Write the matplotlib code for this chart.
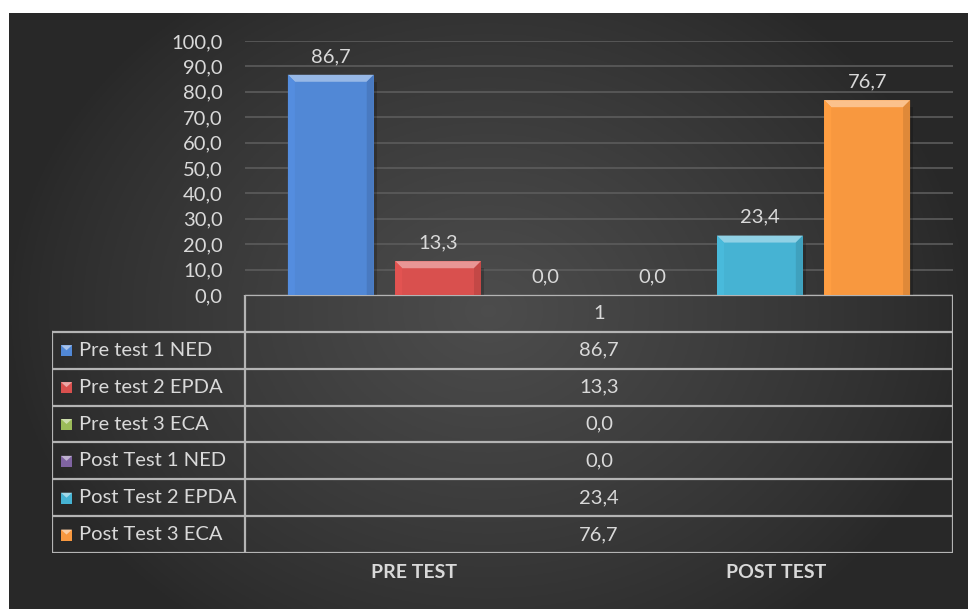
import numpy as np
import matplotlib
matplotlib.use("Agg")
import matplotlib.pyplot as plt
from matplotlib.patches import Polygon, Rectangle
import matplotlib.colors as mcolors

# ------------------------------------------------------------
# Data
# ------------------------------------------------------------
series = ["Pre test 1 NED", "Pre test 2 EPDA", "Pre test 3 ECA",
          "Post Test 1 NED", "Post Test 2 EPDA", "Post Test 3 ECA"]
values = [86.7, 13.3, 0.0, 0.0, 23.4, 76.7]
colors = ["#5188d6", "#d9504e", "#9bbb59", "#8064a2", "#46b3d3", "#f8983f"]
header = "1"
groups = ["PRE TEST", "POST TEST"]
yticks = [0, 10, 20, 30, 40, 50, 60, 70, 80, 90, 100]

W, H = 968, 609
txt = "#d9d9d9"
font = "Lato"
fs = 14.5


def fmt(v):
    return f"{v:.1f}".replace(".", ",")


def fx(px):
    return px / W


def fy(py):
    return 1 - py / H


fig = plt.figure(figsize=(W / 100, H / 100), dpi=100, facecolor="white")

# ------------------------------------------------------------
# Dark gradient background panel
# ------------------------------------------------------------
bg = fig.add_axes([fx(9), 0, fx(W - 9), fy(13)])
bg.set_axis_off()
gx, gy = np.meshgrid(np.linspace(-1, 1, 400), np.linspace(-1, 1, 300))
r = np.sqrt((gx / 1.0) ** 2 + (gy / 1.3) ** 2)
shade = 0.16 + 0.14 * np.clip(1 - r, 0, 1) ** 0.85
bg.imshow(np.dstack([shade] * 3), aspect="auto", extent=[0, 1, 0, 1])

# ------------------------------------------------------------
# Bar chart
# ------------------------------------------------------------
ax = fig.add_axes([fx(245), fy(295), fx(953 - 245), fy(41) - fy(295)])
ax.patch.set_alpha(0)
x = np.arange(len(values))
bars = ax.bar(x, values, width=0.8, color=colors, zorder=3)
ax.set_xlim(-0.8, len(values) - 0.2)
ax.set_ylim(0, 100)
ax.set_yticks(yticks)
ax.set_yticklabels([fmt(t) for t in yticks], color=txt, fontsize=fs,
                   family=font)
ax.tick_params(axis="y", length=0, pad=16)
ax.set_xticks([])
for s in ax.spines.values():
    s.set_visible(False)
ax.grid(axis="y", color="#5c5c5c", linewidth=1.2, zorder=0)

# bevel effect derived from each bar's own extents
dxp = (len(values) + 0.6) / (953 - 245)
dyp = 100 / (295 - 41)
for b, c in zip(bars, colors):
    bx0, bw, bh = b.get_x(), b.get_width(), b.get_height()
    if bh <= 0:
        continue
    ex, ey = 7 * dxp, min(7 * dyp, bh / 2)
    rgb = np.array(mcolors.to_rgb(c))
    light = np.clip(rgb + (1 - rgb) * 0.4, 0, 1)
    dark = rgb * 0.9
    top = [(bx0, bh), (bx0 + bw, bh), (bx0 + bw - ex, bh - ey), (bx0 + ex, bh - ey)]
    left = [(bx0, 0), (bx0, bh), (bx0 + ex, bh - ey), (bx0 + ex, 0)]
    right = [(bx0 + bw, 0), (bx0 + bw, bh), (bx0 + bw - ex, bh - ey), (bx0 + bw - ex, 0)]
    ax.add_patch(Polygon(top, closed=True, color=light, lw=0, zorder=4))
    ax.add_patch(Polygon(left, closed=True, color=np.clip(rgb * 1.04, 0, 1),
                         lw=0, zorder=4))
    ax.add_patch(Polygon(right, closed=True, color=dark, lw=0, zorder=4))
    ax.add_patch(Rectangle((bx0 + bw, 0), 3 * dxp, bh - ey, color="black",
                           alpha=0.2, lw=0, zorder=2))

for xi, v in zip(x, values):
    ax.annotate(fmt(v), (xi, v), xytext=(0, 7), textcoords="offset points",
                ha="center", va="bottom", color=txt, fontsize=fs, family=font,
                zorder=5)

# ------------------------------------------------------------
# Data table under the chart
# ------------------------------------------------------------
tl, tr, tt, tb = 52, 953, 295, 553
split = 245
tab = fig.add_axes([fx(tl), fy(tb), fx(tr - tl), fy(tt) - fy(tb)])
tab.set_xlim(tl, tr)
tab.set_ylim(tb, tt)
tab.set_axis_off()
tab.patch.set_alpha(0)
lc = "#b4b4b4"
lw = 1.6
nrows = len(series) + 1
rh = (tb - tt) / nrows

tab.plot([split, tr], [tt, tt], color=lc, lw=lw)
for i in range(1, nrows + 1):
    yy = tt + i * rh
    tab.plot([tl, tr], [yy, yy], color=lc, lw=lw)
tab.plot([split, split], [tt, tb], color=lc, lw=lw)
tab.plot([tr, tr], [tt, tb], color=lc, lw=lw)
tab.plot([tl, tl], [tt + rh, tb], color=lc, lw=lw)

mid = (split + tr) / 2
tab.text(mid, tt + rh / 2, header, ha="center", va="center", color=txt,
         fontsize=fs, family=font)
for i, (name, v, c) in enumerate(zip(series, values, colors)):
    yc = tt + (i + 1.5) * rh
    rgb = np.array(mcolors.to_rgb(c))
    tab.add_patch(Rectangle((61, yc - 5), 11, 11, color=rgb, lw=0))
    tab.add_patch(Polygon([(61, yc - 5), (72, yc - 5), (66.5, yc)], closed=True,
                          color=np.clip(rgb + (1 - rgb) * 0.5, 0, 1), lw=0))
    tab.text(79, yc, name, ha="left", va="center", color=txt, fontsize=fs,
             family=font)
    tab.text(mid, yc, fmt(v), ha="center", va="center", color=txt,
             fontsize=fs, family=font)

# group labels
fig.text(fx(414), fy(572), groups[0], ha="center", va="center", color=txt,
         fontsize=14, fontweight="bold", family=font)
fig.text(fx(776), fy(572), groups[1], ha="center", va="center", color=txt,
         fontsize=14, fontweight="bold", family=font)

fig.savefig("out.png", dpi=100)
